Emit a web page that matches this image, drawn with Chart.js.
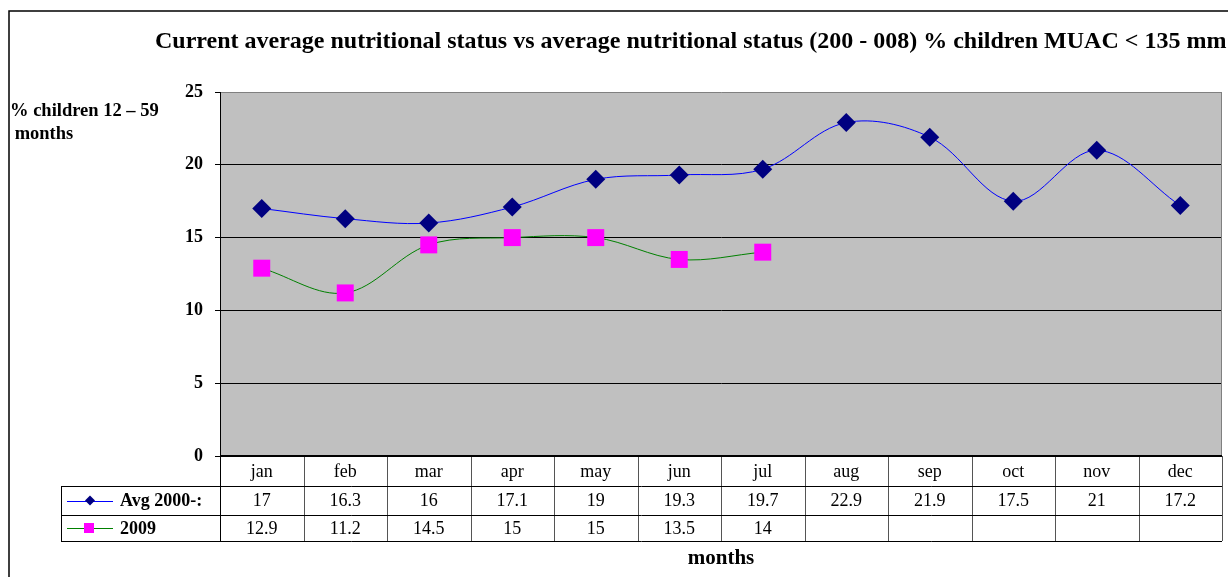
<!DOCTYPE html>
<html>
<head>
<meta charset="utf-8">
<script src="https://cdn.jsdelivr.net/npm/chart.js@4.4.1/dist/chart.umd.min.js"></script>
<style>
  html, body { margin: 0; padding: 0; background: #fff; }
  #wrap { width: 1228px; height: 577px; position: relative; }
</style>
</head>
<body>
<div id="wrap"><canvas id="c" width="1228" height="577"></canvas></div>
<script>
const months = ['jan','feb','mar','apr','may','jun','jul','aug','sep','oct','nov','dec'];
const avgValues = [17, 16.3, 16, 17.1, 19, 19.3, 19.7, 22.9, 21.9, 17.5, 21, 17.2];
const values2009 = [12.9, 11.2, 14.5, 15, 15, 13.5, 14, null, null, null, null, null];
const seriesNames = ['Avg 2000-:', '2009'];
const yTickValues = [0, 5, 10, 15, 20, 25];
const titleText = 'Current average nutritional status vs average nutritional status (200 - 008) % children MUAC < 135 mm';
const yTitleLines = ['% children 12 \u2013 59', ' months'];
const xTitleText = 'months';

const SERIF = '"Liberation Serif", "Times New Roman", serif';

const decorPlugin = {
  id: 'decor',
  beforeDraw(chart) {
    const { ctx, chartArea: a } = chart;
    ctx.save();
    ctx.fillStyle = '#fff';
    ctx.fillRect(0, 0, chart.width, chart.height);
    ctx.fillStyle = '#C0C0C0';
    ctx.fillRect(a.left, a.top, a.right - a.left, a.bottom - a.top);
    ctx.restore();
  },
  afterDraw(chart) {
    const { ctx, chartArea: a } = chart;
    const xs = chart.scales.x;
    ctx.save();
    // outer border
    ctx.strokeStyle = '#000';
    ctx.lineWidth = 1.5;
    ctx.beginPath();
    ctx.moveTo(9, 577); ctx.lineTo(9, 11); ctx.lineTo(1228, 11);
    ctx.stroke();
    // right border of plot area
    ctx.strokeStyle = '#808080';
    ctx.lineWidth = 1;
    ctx.beginPath();
    ctx.moveTo(a.right - 0.5, a.top); ctx.lineTo(a.right - 0.5, a.bottom);
    ctx.stroke();

    // title
    ctx.fillStyle = '#000';
    ctx.font = 'bold 24px ' + SERIF;
    ctx.textAlign = 'left';
    ctx.textBaseline = 'alphabetic';
    ctx.fillText(titleText, 155, 48);

    // y title
    ctx.font = 'bold 18.5px ' + SERIF;
    ctx.fillText(yTitleLines[0], 10, 116);
    ctx.fillText(yTitleLines[1], 10, 139);

    // data table
    const n = months.length;
    const cw = (a.right - a.left) / n;
    const y0 = a.bottom, y1 = 486, y2 = 515, y3 = 541, legL = 61;
    ctx.strokeStyle = '#555';
    ctx.lineWidth = 1;
    for (let i = 0; i <= n; i++) {
      const x = Math.round(a.left + i * cw) + 0.5;
      ctx.beginPath();
      ctx.moveTo(x, y0); ctx.lineTo(x, y3);
      ctx.stroke();
    }
    ctx.strokeStyle = '#000';
    ctx.beginPath();
    ctx.moveTo(Math.round(a.left) + 0.5, y0); ctx.lineTo(Math.round(a.left) + 0.5, y3);
    ctx.moveTo(legL + 0.5, y1); ctx.lineTo(legL + 0.5, y3);
    ctx.moveTo(legL, y1 + 0.5); ctx.lineTo(a.right, y1 + 0.5);
    ctx.moveTo(legL, y2 + 0.5); ctx.lineTo(a.right, y2 + 0.5);
    ctx.moveTo(legL, y3 + 0.5); ctx.lineTo(a.right, y3 + 0.5);
    ctx.stroke();
    ctx.lineWidth = 2;
    ctx.beginPath();
    ctx.moveTo(a.left, y0); ctx.lineTo(a.right, y0);
    ctx.stroke();

    ctx.fillStyle = '#000';
    ctx.font = '18px ' + SERIF;
    ctx.textAlign = 'center';
    ctx.textBaseline = 'middle';
    const rows = [avgValues, values2009];
    for (let i = 0; i < n; i++) {
      const cx = xs.getPixelForValue(i);
      ctx.fillText(months[i], cx, (y0 + y1) / 2 + 1);
      rows.forEach((r, k) => {
        const v = r[i];
        if (v !== null && v !== undefined) {
          const cy = k === 0 ? (y1 + y2) / 2 + 1 : (y2 + y3) / 2 + 1;
          ctx.fillText(String(v), cx, cy);
        }
      });
    }
    // legend keys
    const keys = [
      { y: (y1 + y2) / 2, line: '#0000FF', marker: 'diamond', fill: '#000080' },
      { y: (y2 + y3) / 2, line: '#008000', marker: 'square', fill: '#FF00FF' }
    ];
    keys.forEach((k, idx) => {
      ctx.strokeStyle = k.line;
      ctx.lineWidth = 1;
      ctx.beginPath();
      ctx.moveTo(67, Math.round(k.y) + 0.5); ctx.lineTo(113, Math.round(k.y) + 0.5);
      ctx.stroke();
      ctx.fillStyle = k.fill;
      ctx.beginPath();
      if (k.marker === 'diamond') {
        const r = 5;
        ctx.moveTo(90, k.y - r); ctx.lineTo(90 + r, k.y); ctx.lineTo(90, k.y + r); ctx.lineTo(90 - r, k.y);
        ctx.closePath();
      } else {
        ctx.rect(84, k.y - 5, 10, 10);
      }
      ctx.fill();
      ctx.fillStyle = '#000';
      ctx.font = 'bold 18px ' + SERIF;
      ctx.textAlign = 'left';
      ctx.fillText(seriesNames[idx], 120, k.y + 1);
    });

    // x title
    ctx.font = 'bold 21px ' + SERIF;
    ctx.textAlign = 'center';
    ctx.fillText(xTitleText, 721, 559);
    ctx.restore();
  }
};

new Chart(document.getElementById('c'), {
  type: 'line',
  data: {
    labels: months,
    datasets: [
      {
        label: seriesNames[0],
        data: avgValues,
        borderColor: '#0000FF',
        borderWidth: 1,
        backgroundColor: '#000080',
        pointStyle: 'rectRot',
        pointRadius: 9.5,
        pointHoverRadius: 9.5,
        pointBackgroundColor: '#000080',
        pointBorderColor: '#000080',
        pointBorderWidth: 0,
        tension: 0.35,
        fill: false
      },
      {
        label: seriesNames[1],
        data: values2009,
        borderColor: '#008000',
        borderWidth: 1,
        backgroundColor: '#FF00FF',
        pointStyle: 'rect',
        pointRadius: 12,
        pointHoverRadius: 12,
        pointBackgroundColor: '#FF00FF',
        pointBorderColor: '#FF00FF',
        pointBorderWidth: 0,
        tension: 0.35,
        fill: false
      }
    ]
  },
  options: {
    responsive: false,
    animation: false,
    devicePixelRatio: 1,
    layout: { autoPadding: false, padding: { top: 92, right: 6, left: 0, bottom: 0 } },
    plugins: { legend: { display: false }, title: { display: false }, tooltip: { enabled: false } },
    scales: {
      x: {
        type: 'category',
        offset: true,
        grid: { display: false, drawTicks: false },
        border: { display: false },
        ticks: { display: false },
        afterFit: s => { s.height = 121; s.paddingRight = 0; s.paddingLeft = 0; }
      },
      y: {
        min: 0,
        max: 25,
        afterBuildTicks: s => { s.ticks = yTickValues.map(v => ({ value: v })); },
        ticks: {
          color: '#000',
          font: { family: SERIF, size: 18, weight: 'bold' },
          padding: 12
        },
        grid: {
          color: c => (c.tick && c.tick.value === 25) ? '#808080' : '#000',
          tickColor: '#000',
          tickLength: 5,
          lineWidth: 1
        },
        border: { display: true, color: '#000', width: 1 },
        afterFit: s => { s.width = 220; s.paddingTop = 0; s.paddingBottom = 0; }
      }
    }
  },
  plugins: [decorPlugin]
});
</script>
</body>
</html>
